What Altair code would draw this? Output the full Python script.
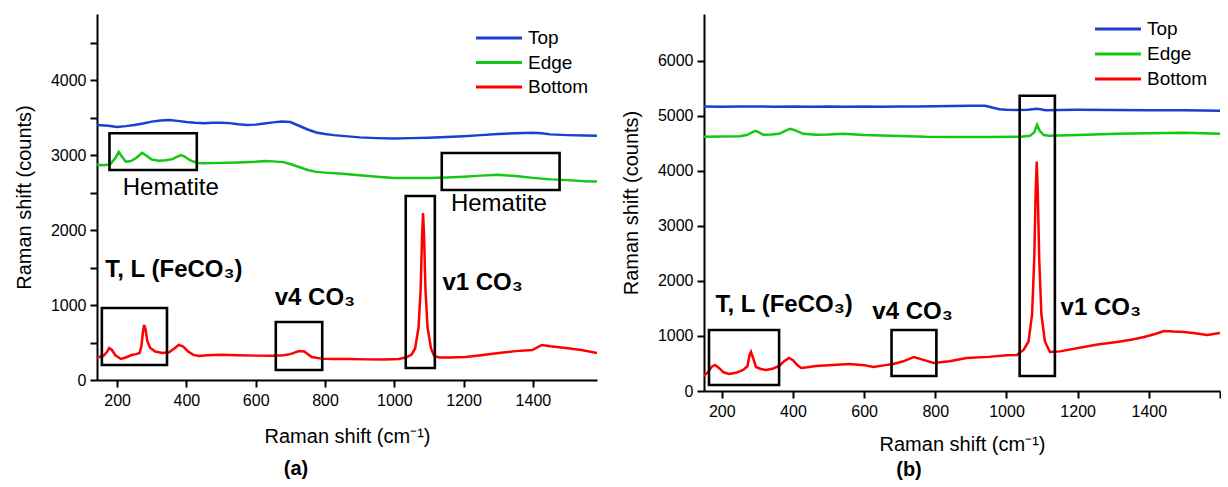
import altair as alt
import pandas as pd

FONT = "Liberation Sans"
SERIES = ["Top", "Edge", "Bottom"]
COLORS = ["#1c3fd0", "#12c812", "#ff0000"]

# ---------------- Panel (a) ----------------
a_top_x = [142, 175, 200, 225, 250, 275, 300, 325, 350, 375, 400, 425, 450, 475, 500, 525, 550, 575, 600, 625, 650, 675, 700, 725, 750, 775, 800, 825, 850, 875, 900, 950, 1000, 1050, 1100, 1150, 1200, 1250, 1300, 1350, 1400, 1425, 1450, 1500, 1550, 1585]
a_top_y = [3400, 3390, 3375, 3385, 3400, 3420, 3445, 3460, 3465, 3455, 3440, 3430, 3425, 3430, 3430, 3425, 3410, 3400, 3405, 3420, 3435, 3445, 3440, 3390, 3340, 3300, 3280, 3265, 3255, 3245, 3235, 3225, 3220, 3225, 3230, 3240, 3250, 3265, 3280, 3290, 3295, 3290, 3275, 3265, 3260, 3255]

a_edge_x = [142, 160, 180, 195, 205, 212, 225, 240, 255, 272, 285, 300, 320, 340, 360, 375, 385, 395, 410, 430, 450, 500, 550, 600, 625, 650, 680, 700, 725, 750, 775, 800, 850, 900, 950, 1000, 1050, 1100, 1150, 1200, 1250, 1300, 1350, 1400, 1450, 1500, 1550, 1585]
a_edge_y = [2870, 2865, 2875, 2960, 3040, 2990, 2910, 2920, 2960, 3030, 2990, 2940, 2925, 2930, 2945, 2980, 3000, 2980, 2930, 2895, 2890, 2895, 2900, 2910, 2920, 2915, 2905, 2880, 2840, 2800, 2775, 2765, 2750, 2730, 2710, 2695, 2695, 2695, 2700, 2710, 2725, 2735, 2720, 2695, 2675, 2665, 2650, 2645]

a_bot_x = [142, 160, 170, 177, 185, 195, 211, 225, 242, 255, 265, 270, 275, 278, 282, 287, 295, 310, 330, 350, 365, 378, 390, 405, 420, 436, 460, 500, 550, 600, 650, 680, 700, 725, 740, 762, 790, 820, 870, 920, 970, 1013, 1033, 1050, 1060, 1070, 1076, 1080, 1083, 1086, 1090, 1096, 1106, 1115, 1130, 1160, 1206, 1250, 1302, 1350, 1398, 1426, 1450, 1495, 1540, 1585]
a_bot_y = [300, 320, 370, 427, 400, 330, 280, 300, 333, 345, 360, 450, 650, 733, 680, 520, 430, 380, 360, 370, 420, 467, 450, 380, 335, 320, 330, 335, 330, 325, 325, 330, 345, 387, 380, 307, 285, 280, 280, 275, 275, 280, 300, 340, 420, 700, 1200, 1900, 2227, 1900, 1200, 700, 420, 320, 300, 300, 307, 330, 360, 385, 400, 467, 450, 427, 400, 360]

a_box_x1 = [178, 156, 658, 1033, 1137]
a_box_x2 = [430, 344, 792, 1117, 1477]
a_box_y1 = [2800, 200, 133, 160, 2533]
a_box_y2 = [3290, 960, 773, 2453, 3027]

a_bold_text = ["T, L (FeCO₃)", "v4 CO₃", "v1 CO₃"]
a_bold_x = [364, 771, 1255]
a_bold_y = [1467, 1093, 1293]

a_reg_text = ["Hematite", "Hematite"]
a_reg_x = [355, 1302]
a_reg_y = [2560, 2347]

# ---------------- Panel (b) ----------------
b_top_x = [150, 200, 250, 300, 350, 400, 450, 500, 550, 600, 650, 700, 750, 800, 850, 900, 940, 960, 980, 1000, 1030, 1060, 1085, 1095, 1110, 1150, 1200, 1300, 1400, 1500, 1600]
b_top_y = [5170, 5165, 5170, 5170, 5165, 5170, 5165, 5170, 5165, 5170, 5165, 5170, 5170, 5175, 5180, 5185, 5182, 5150, 5120, 5109, 5105, 5110, 5130, 5120, 5100, 5105, 5108, 5105, 5100, 5100, 5090]

b_edge_x = [150, 200, 250, 270, 294, 305, 316, 340, 361, 380, 392, 405, 429, 465, 500, 541, 600, 700, 773, 850, 950, 1040, 1066, 1078, 1086, 1094, 1105, 1119, 1200, 1310, 1400, 1499, 1600]
b_edge_y = [4618, 4625, 4630, 4650, 4727, 4700, 4655, 4660, 4673, 4730, 4764, 4740, 4673, 4655, 4660, 4673, 4650, 4635, 4618, 4615, 4615, 4620, 4636, 4700, 4836, 4720, 4650, 4636, 4650, 4673, 4685, 4691, 4675]

b_bot_x = [150, 161, 172, 181, 192, 205, 220, 240, 260, 272, 278, 282, 288, 296, 310, 325, 345, 361, 375, 389, 400, 412, 423, 440, 465, 500, 558, 600, 626, 660, 682, 710, 739, 760, 795, 840, 888, 950, 1000, 1029, 1048, 1062, 1072, 1078, 1082, 1085, 1088, 1092, 1098, 1108, 1122, 1150, 1217, 1260, 1310, 1350, 1387, 1420, 1443, 1470, 1499, 1530, 1564, 1600]
b_bot_y = [273, 345, 440, 473, 420, 340, 309, 330, 382, 450, 650, 709, 600, 436, 400, 382, 410, 455, 540, 600, 560, 470, 418, 430, 455, 470, 491, 470, 436, 470, 491, 540, 618, 580, 509, 540, 600, 620, 650, 655, 745, 900, 1400, 2400, 3600, 4170, 3600, 2400, 1400, 900, 709, 720, 800, 850, 891, 930, 982, 1040, 1091, 1080, 1073, 1050, 1018, 1055]

b_box_x1 = [164, 677, 1037]
b_box_x2 = [361, 803, 1136]
b_box_y1 = [109, 273, 273]
b_box_y2 = [1109, 1109, 5364]

b_bold_text = ["T, L (FeCO₃)", "v4 CO₃", "v1 CO₃"]
b_bold_x = [375, 736, 1265]
b_bold_y = [1564, 1436, 1509]


def line_df(xs_list, ys_list):
    frames = []
    for name, xs, ys in zip(SERIES, xs_list, ys_list):
        frames.append(pd.DataFrame({"x": xs, "y": ys, "series": name}))
    return pd.concat(frames, ignore_index=True)


def panel(df, boxes, bold, regular, xdom, ydom, xvals, yvals, w, h,
          leg_x, leg_y0, leg_dy, title, title_dx, title_off, xtitle_pad):
    xscale = alt.Scale(domain=xdom, nice=False, zero=False)
    yscale = alt.Scale(domain=ydom, nice=False, zero=False)
    xaxis = alt.Axis(values=xvals, format="d",
                     labelExpr="datum.value % 200 == 0 && datum.value < 1500 ? datum.label : ''",
                     title="Raman shift (cm⁻¹)", titlePadding=xtitle_pad)
    yaxis = alt.Axis(values=yvals, format="d",
                     labelExpr="datum.value % 1000 == 0 ? datum.label : ''",
                     title="Raman shift (counts)")
    lines = alt.Chart(df).mark_line(strokeWidth=2.5, clip=True).encode(
        x=alt.X("x:Q", scale=xscale, axis=xaxis),
        y=alt.Y("y:Q", scale=yscale, axis=yaxis),
        color=alt.Color("series:N", scale=alt.Scale(domain=SERIES, range=COLORS), legend=None),
        detail="series:N",
    )
    bx = pd.DataFrame({"x1": boxes[0], "x2": boxes[1], "y1": boxes[2], "y2": boxes[3]})
    rects = alt.Chart(bx).mark_rect(fillOpacity=0, stroke="black", strokeWidth=2.6).encode(
        x="x1:Q", x2="x2:Q", y="y1:Q", y2="y2:Q")
    layers = [lines, rects]
    bd = pd.DataFrame({"t": bold[0], "x": bold[1], "y": bold[2]})
    layers.append(alt.Chart(bd).mark_text(font=FONT, fontSize=24, fontWeight="bold",
                                          color="black").encode(x="x:Q", y="y:Q", text="t:N"))
    if regular is not None:
        rd = pd.DataFrame({"t": regular[0], "x": regular[1], "y": regular[2]})
        layers.append(alt.Chart(rd).mark_text(font=FONT, fontSize=24,
                                              color="black").encode(x="x:Q", y="y:Q", text="t:N"))
    for i, (name, col) in enumerate(zip(SERIES, COLORS)):
        one = alt.Data(values=[{"s": name}])
        yy = leg_y0 + i * leg_dy
        layers.append(alt.Chart(one).mark_rule(color=col, strokeWidth=3).encode(
            x=alt.value(leg_x), x2=alt.value(leg_x + 46), y=alt.value(yy)))
        layers.append(alt.Chart(one).mark_text(font=FONT, fontSize=19, align="left",
                                               baseline="middle", color="black").encode(
            x=alt.value(leg_x + 52), y=alt.value(yy), text="s:N"))
    return alt.layer(*layers).properties(
        width=w, height=h,
        title=alt.TitleParams(title, orient="bottom", anchor="middle", fontSize=20,
                              fontWeight="bold", font=FONT, color="black", dx=title_dx,
                              offset=title_off),
    )


pa = panel(line_df([a_top_x, a_edge_x, a_bot_x], [a_top_y, a_edge_y, a_bot_y]),
           (a_box_x1, a_box_x2, a_box_y1, a_box_y2),
           (a_bold_text, a_bold_x, a_bold_y), (a_reg_text, a_reg_x, a_reg_y),
           [142, 1585], [0, 4880], list(range(200, 1600, 100)), list(range(0, 4600, 500)),
           500, 366, 379, 24, 24.5, "(a)", -51, 13, 18)

pb = panel(line_df([b_top_x, b_edge_x, b_bot_x], [b_top_y, b_edge_y, b_bot_y]),
           (b_box_x1, b_box_x2, b_box_y1, b_box_y2),
           (b_bold_text, b_bold_x, b_bold_y), None,
           [150, 1600], [0, 6850], list(range(200, 1700, 100)), list(range(0, 6600, 500)),
           516, 377, 391, 15, 25, "(b)", -53, 6, 15)

chart = alt.hconcat(pa, pb, spacing=24).properties(
    padding={"left": 14, "top": 14, "right": 0, "bottom": 0}
).configure_view(stroke=None).configure_axis(
    grid=False, domainColor="black", domainWidth=2, tickColor="black", tickWidth=2,
    tickSize=7, labelFont=FONT, labelFontSize=16, labelColor="black", labelPadding=4,
    titleFont=FONT, titleFontSize=20, titleFontWeight="normal", titleColor="black",
    titlePadding=16,
).configure_axisX(labelPadding=5)

chart.save("out.html", embed_options={"renderer": "svg", "actions": False})
